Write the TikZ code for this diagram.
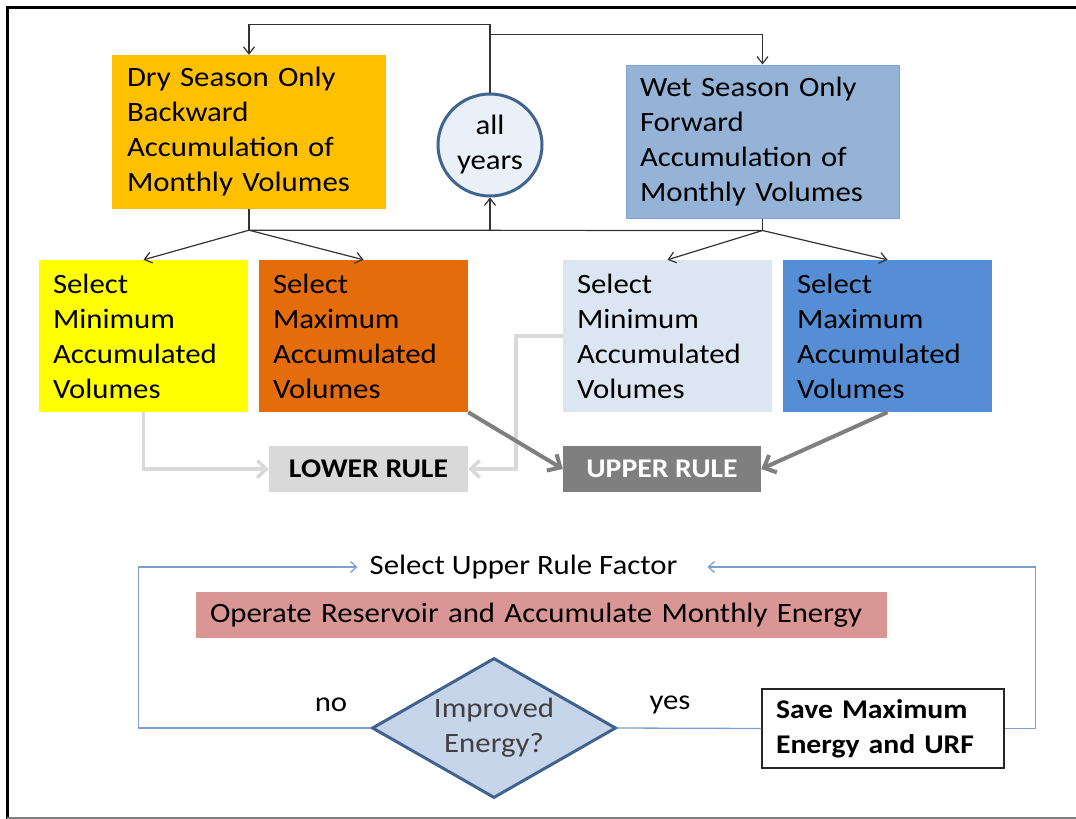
\documentclass[tikz,border=0pt]{standalone}
\usepackage{fontspec}
\setmainfont{Carlito}[FakeStretch=1.1]
\usepackage{xcolor}
\usepackage{tikz}
\usetikzlibrary{arrows.meta, shapes.geometric}

\definecolor{dryfill}{HTML}{FFC000}
\definecolor{wetfill}{HTML}{95B3D7}
\definecolor{wetline}{HTML}{7DA3D6}
\definecolor{minyellow}{HTML}{FFFF00}
\definecolor{maxorange}{HTML}{E46C0A}
\definecolor{wetmin}{HTML}{DCE6F2}
\definecolor{wetmax}{HTML}{558ED5}
\definecolor{lowerfill}{HTML}{D9D9D9}
\definecolor{upperfill}{HTML}{7F7F7F}
\definecolor{operfill}{HTML}{D99694}
\definecolor{diamfill}{HTML}{C6D5EA}
\definecolor{ringline}{HTML}{41648F}
\definecolor{ringfill}{HTML}{EAF0F8}
\definecolor{loopline}{HTML}{7BA0CD}

\begin{document}
\begin{tikzpicture}[x=1pt, y=-1pt]
        \tikzstyle{every node}=[font=\fontsize{28}{35}\selectfont]
        \tikzstyle{bigbox}=[rectangle, text width=244pt, inner xsep=15pt, inner ysep=4pt, minimum height=154pt, align=left]
        \tikzstyle{selbox}=[rectangle, text width=181pt, inner xsep=14pt, inner ysep=4pt, minimum height=152pt, align=left]
        \tikzstyle{rulebox}=[rectangle, minimum width=199pt, minimum height=46pt, inner sep=0pt, font=\fontsize{27}{30}\selectfont\bfseries]
        \tikzstyle{thinarr}=[black!80, line width=1.2pt, -{Straight Barb[length=7pt, width=11pt]}]
        \tikzstyle{lightarr}=[lowerfill, line width=3.5pt, -{Straight Barb[length=9pt, width=17pt]}]
        \tikzstyle{darkarr}=[upperfill, line width=4pt, -{Straight Barb[length=10pt, width=19pt]}]
        \tikzstyle{looparr}=[loopline, line width=1.3pt, -{Straight Barb[length=6pt, width=11pt]}]

        \useasboundingbox (0,0) rectangle (1076,819);

        % Frame
        \draw[line width=3pt] (7,819) -- (7,7) -- (1076,7);
        \draw[gray, line width=1.5pt] (7,818) -- (1076,818);

        % Seasons
        \node[bigbox, fill=dryfill] (dry) at (249,132) {Dry Season Only\\Backward\\Accumulation of\\Monthly Volumes};
        \node[bigbox, fill=wetfill, draw=wetline, line width=1pt, text width=245pt, inner xsep=14pt, minimum height=153pt] (wet) at (762.5,141.5) {Wet Season Only\\Forward\\Accumulation of\\Monthly Volumes};
        \node[ellipse, draw=ringline, fill=ringfill, line width=3pt, minimum width=104pt, minimum height=102pt, inner sep=0pt, align=center] (years) at (490,145) {all\\years};

        % Loop over years
        \draw[thinarr] (years.north) -- ++(0,-68) -| (dry.north);
        \draw[thinarr] (years.north) ++(0,-58) -| (wet.north);
        \draw[black!80, line width=1.2pt] (dry.south) -- ++(0,21) coordinate (dryJ);
        \draw[black!80, line width=1.2pt] (wet.south) -- ++(0,12) coordinate (wetJ);
        \draw[black!80, line width=1.2pt] (dryJ) -- (wetJ);
        \draw[thinarr] (years.south |- dryJ) -- (years.south);

        % Select boxes
        \node[selbox, fill=minyellow] (dmin) at (143.5,336) {Select\\Minimum\\Accumulated\\Volumes};
        \node[selbox, fill=maxorange] (dmax) at (363.5,336) {Select\\Maximum\\Accumulated\\Volumes};
        \node[selbox, fill=wetmin] (wmin) at (667.5,336) {Select\\Minimum\\Accumulated\\Volumes};
        \node[selbox, fill=wetmax] (wmax) at (887.5,336) {Select\\Maximum\\Accumulated\\Volumes};

        \draw[thinarr] (dryJ) -- (dmin.north);
        \draw[thinarr] (dryJ) -- (dmax.north);
        \draw[thinarr] (wetJ) -- (wmin.north);
        \draw[thinarr] (wetJ) -- (wmax.north);

        % Rules
        \node[rulebox, fill=lowerfill] (lower) at (368.5,469) {LOWER RULE};
        \node[rulebox, fill=upperfill, text=white, minimum width=198pt] (upper) at (662,469) {UPPER RULE};

        \draw[lightarr] (dmin.south) |- (lower.west);
        \draw[lightarr] (wmin.west) -- ++(-47,0) |- (lower.east);
        \draw[darkarr] (dmax.south east) -- (upper.west);
        \draw[darkarr] (wmax.south) -- (upper.east);

        % Upper rule factor loop
        \node[inner xsep=12pt] (urf) at (523.5,567) {Select Upper Rule Factor};
        \node[rectangle, fill=operfill, text width=663pt, inner xsep=14pt, minimum height=46pt, inner ysep=0pt, align=left] (oper) at (541.5,615) {Operate Reservoir and Accumulate Monthly Energy};
        \node[diamond, aspect=1.74, draw=ringline, fill=diamfill, line width=3pt, minimum width=244pt, minimum height=140pt, inner sep=0pt, align=center, text=black!75] (imp) at (494,728) {Improved\\Energy?};
        \node[rectangle, draw=black!85, line width=1.5pt, fill=white, text width=214pt, inner xsep=14pt, minimum height=79pt, inner ysep=2pt, align=left, font=\fontsize{27}{35}\selectfont\bfseries] (save) at (883,728.5) {Save Maximum\\Energy and URF};

        \node (no) at (331,705) {no};
        \node (yes) at (670,705) {yes};

        \draw[loopline, line width=1.3pt] (imp.east) -- (save.west);
        \draw[looparr] (imp.west) -- ++(-232,0) |- (urf.west);
        \draw[looparr] (save.east) -- ++(31,0) |- ([xshift=18pt]urf.east);
\end{tikzpicture}
\end{document}
